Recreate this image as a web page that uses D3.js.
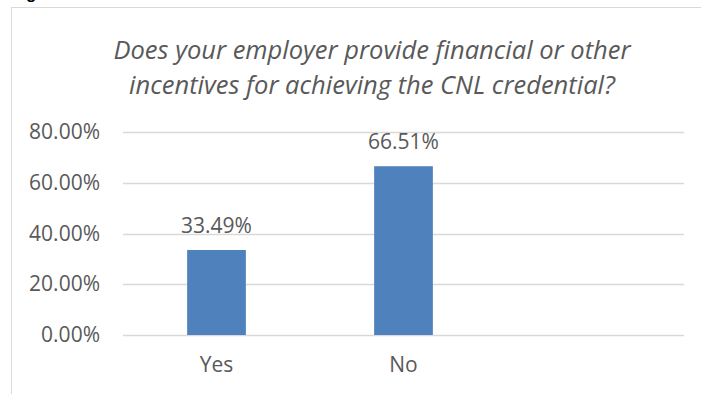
<!DOCTYPE html>
<html>
<head>
<meta charset="utf-8">
<script src="https://cdn.jsdelivr.net/npm/d3@7"></script>
<style>
  html, body { margin: 0; padding: 0; background: #fff; }
  svg { display: block; }
</style>
</head>
<body>
<svg id="chart" width="701" height="394"></svg>
<script>
// Survey answers and their shares (percent)
const categories = ["Yes", "No", ""];
const shares = [33.49, 66.51, null];
const yTicks = [0, 20, 40, 60, 80];
const titleLines = [
  "Does your employer provide financial or other",
  "incentives for achieving the CNL credential?"
];

const W = 701, H = 394;
const svg = d3.select("#chart");
const textColor = "#595959";
const font = "'Open Sans', sans-serif";

// Caption line of the document, mostly above the visible area
svg.append("text")
  .attr("x", 11).attr("y", -1)
  .attr("font-family", "'Liberation Sans', Arial, sans-serif")
  .attr("font-weight", "bold")
  .attr("font-size", 17)
  .attr("fill", "#000")
  .text("Figure");

// Chart area frame
svg.append("rect")
  .attr("x", 11.5).attr("y", 7.5)
  .attr("width", 720).attr("height", 420)
  .attr("fill", "#fff")
  .attr("stroke", "#d9d9d9")
  .attr("stroke-width", 1);

// Title
svg.append("text")
  .attr("text-anchor", "middle")
  .attr("font-family", font)
  .attr("font-style", "italic")
  .attr("font-size", 25.5)
  .attr("fill", textColor)
  .selectAll("tspan")
  .data(titleLines)
  .join("tspan")
  .attr("x", 372)
  .attr("y", (d, i) => 59 + i * 35)
  .text(d => d);

// Scales
const x = d3.scaleBand()
  .domain(d3.range(categories.length))
  .range([123, 684])
  .paddingInner(0.686)
  .paddingOuter(0.343);

const y = d3.scaleLinear()
  .domain([0, 80])
  .range([335, 132]);

// Gridlines
svg.append("g")
  .selectAll("line")
  .data(yTicks)
  .join("line")
  .attr("x1", 123).attr("x2", 684)
  .attr("y1", d => Math.round(y(d)) + 0.5)
  .attr("y2", d => Math.round(y(d)) + 0.5)
  .attr("stroke", "#d9d9d9")
  .attr("stroke-width", 1.5);

// Y axis labels
const yAxis = d3.axisLeft(y)
  .tickValues(yTicks)
  .tickSize(0)
  .tickPadding(0)
  .tickFormat(d => d.toFixed(2) + "%");

const gy = svg.append("g")
  .attr("transform", "translate(100,0)")
  .call(yAxis);
gy.select(".domain").remove();
gy.selectAll("text")
  .attr("font-family", font)
  .attr("font-size", 21)
  .attr("fill", textColor);

// X axis labels
const xAxis = d3.axisBottom(x)
  .tickSize(0)
  .tickPadding(0)
  .tickFormat(i => categories[i]);

const gx = svg.append("g")
  .attr("transform", "translate(0,357)")
  .call(xAxis);
gx.select(".domain").remove();
gx.selectAll("text")
  .attr("font-family", font)
  .attr("font-size", 21)
  .attr("fill", textColor);

// Bars
const data = categories.map((c, i) => ({ i, c, v: shares[i] })).filter(d => d.v != null);

svg.append("g")
  .selectAll("rect")
  .data(data)
  .join("rect")
  .attr("x", d => x(d.i))
  .attr("width", x.bandwidth())
  .attr("y", d => y(d.v))
  .attr("height", d => y(0) - y(d.v))
  .attr("fill", "#4f81bd");

// Value labels
svg.append("g")
  .selectAll("text")
  .data(data)
  .join("text")
  .attr("x", d => x(d.i) + x.bandwidth() / 2)
  .attr("y", d => y(d.v) - 17)
  .attr("text-anchor", "middle")
  .attr("font-family", font)
  .attr("font-size", 21)
  .attr("fill", textColor)
  .text(d => d.v.toFixed(2) + "%");
</script>
</body>
</html>
